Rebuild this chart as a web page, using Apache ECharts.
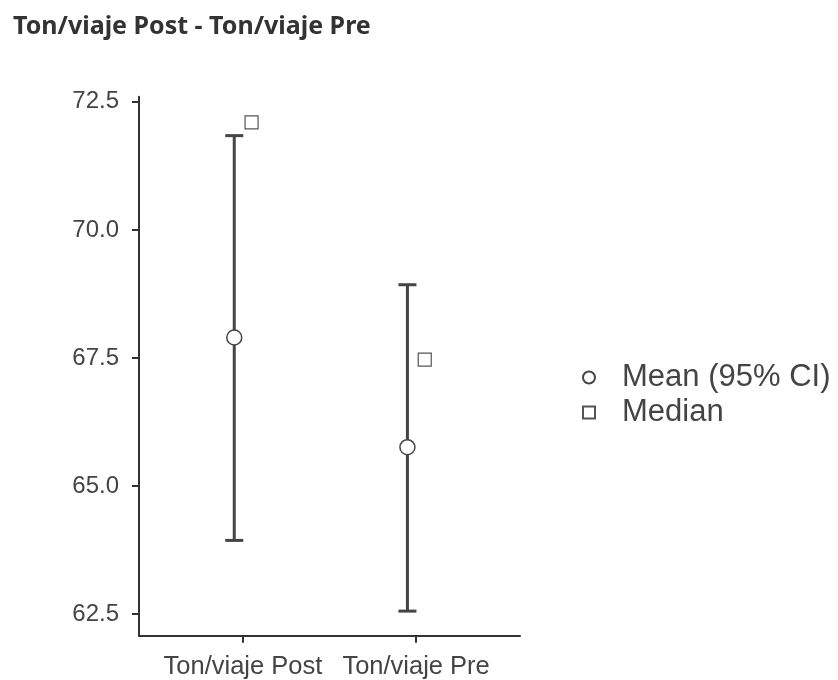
<!DOCTYPE html>
<html><head><meta charset="utf-8">
<script src="https://cdn.jsdelivr.net/npm/echarts@6/dist/echarts.min.js"></script>
<style>html,body{margin:0;padding:0;background:#fff}#c{width:838px;height:680px}</style>
</head><body><div id="c"></div>
<script>
const categories = ['Ton/viaje Post', 'Ton/viaje Pre'];
const meanValues = [67.9, 65.76];
const ciLower = [63.94, 62.56];
const ciUpper = [71.84, 68.93];
const medianValues = [72.1, 67.47];
const yTicks = [62.5, 65.0, 67.5, 70.0, 72.5];

const DODGE = 0.05;
const catPos = categories.map((c, i) => i + 1);
const lineColor = '#454545';
const axisColor = '#333';
const textColor = '#444';

const chart = echarts.init(document.getElementById('c'), null, {renderer: 'canvas'});
const option = {
  animation: false,
  backgroundColor: '#fff',
  title: {
    text: 'Ton/viaje Post - Ton/viaje Pre', left: 8, top: 9,
    textStyle: {fontFamily: 'Noto Sans', fontWeight: 'bold', fontSize: 25, color: '#333'}
  },
  grid: {left: 139, right: 318, top: 96.7, bottom: 44.3, containLabel: false},
  xAxis: {
    type: 'value', min: 0.4, max: 2.6,
    axisLine: {show: true, onZero: false, lineStyle: {color: axisColor, width: 2}},
    axisTick: {show: true, customValues: catPos, length: 7, lineStyle: {color: axisColor, width: 2}},
    axisLabel: {
      customValues: catPos, formatter: v => categories[Math.round(v) - 1],
      fontFamily: 'Liberation Sans', fontSize: 25.5, color: textColor, margin: 18
    },
    splitLine: {show: false}
  },
  yAxis: {
    type: 'value', min: 62.08, max: 72.6,
    axisLine: {show: true, onZero: false, lineStyle: {color: axisColor, width: 2}},
    axisTick: {show: true, customValues: yTicks, length: 7, lineStyle: {color: axisColor, width: 2}},
    axisLabel: {
      customValues: yTicks, formatter: v => v.toFixed(1),
      fontFamily: 'Liberation Sans', fontSize: 24, color: textColor, margin: 20,
      padding: [3, 0, 0, 0]
    },
    splitLine: {show: false}
  },
  legend: {
    orient: 'vertical', left: 577, top: 355,
    itemWidth: 12, itemHeight: 12, itemGap: 0,
    selectedMode: false,
    textStyle: {fontFamily: 'Liberation Sans', fontSize: 31, lineHeight: 35, color: textColor, padding: [0, 0, 0, 22]},
    data: [{name: 'Mean (95% CI)'}, {name: 'Median'}]
  },
  series: [
    {
      type: 'custom', name: 'CI', z: 2, silent: true,
      data: categories.map((c, i) => [catPos[i] - DODGE, ciLower[i], ciUpper[i]]),
      encode: {x: 0, y: [1, 2]},
      renderItem: (params, api) => {
        const x = api.value(0);
        const lo = api.coord([x, api.value(1)]);
        const hi = api.coord([x, api.value(2)]);
        const cap = 9;
        const st = {stroke: lineColor, lineWidth: 3};
        return {type: 'group', children: [
          {type: 'line', shape: {x1: lo[0], y1: lo[1], x2: hi[0], y2: hi[1]}, style: st},
          {type: 'line', shape: {x1: hi[0] - cap, y1: hi[1], x2: hi[0] + cap, y2: hi[1]}, style: st},
          {type: 'line', shape: {x1: lo[0] - cap, y1: lo[1], x2: lo[0] + cap, y2: lo[1]}, style: st}
        ]};
      }
    },
    {
      type: 'scatter', name: 'Mean (95% CI)', z: 3, silent: true,
      symbol: 'circle', symbolSize: 15,
      itemStyle: {color: '#fff', borderColor: lineColor, borderWidth: 1.5, opacity: 1},
      data: categories.map((c, i) => [catPos[i] - DODGE, meanValues[i]])
    },
    {
      type: 'scatter', name: 'Median', z: 3, silent: true,
      symbol: 'rect', symbolSize: 13,
      itemStyle: {color: '#fff', borderColor: '#555', borderWidth: 1.2, opacity: 1},
      data: categories.map((c, i) => [catPos[i] + DODGE, medianValues[i]])
    }
  ]
};
chart.setOption(option);
</script>
</body></html>
